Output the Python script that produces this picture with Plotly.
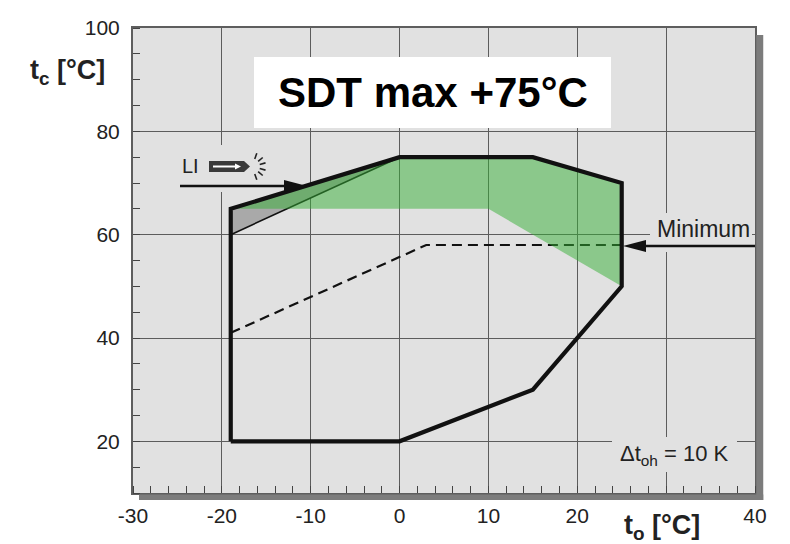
import math
import plotly.graph_objects as go

# ---------------- data ----------------
env_to = [-19, 0, 15, 25, 25, 15, 0, -19, -19]
env_tc = [20, 20, 30, 50, 70, 75, 75, 65, 20]

green_to = [-19, 0, 15, 25, 25, 10, -19]
green_tc = [65, 75, 75, 70, 50, 65, 65]

li_to = [-19, 0, -19]
li_tc = [65, 75, 60]

li_line_to = [-19, 0]
li_line_tc = [60, 75]

min_to = [-19, 3, 25]
min_tc = [41, 58, 58]

x_ticks = [-30, -20, -10, 0, 10, 20, 30, 40]
x_tick_labels = ["-30", "-20", "-10", "0", "10", "20", "", "40"]
y_ticks = [20, 40, 60, 80, 100]
y_tick_labels = ["20", "40", "60", "80", "100"]

X_RANGE = [-30, 40]
Y_RANGE = [10, 100]

# ---------------- layout geometry ----------------
W, H = 790, 544
ML, MR, MT, MB = 133, 35, 28, 51
PW = W - ML - MR
PH = H - MT - MB
SX = PW / (X_RANGE[1] - X_RANGE[0])
SY = PH / (Y_RANGE[1] - Y_RANGE[0])


def X(px):
    return X_RANGE[0] + (px - ML) / SX


def Y(py):
    return Y_RANGE[1] - (py - MT) / SY


BG = "#e1e1e1"
GRID = "#5c5c5c"

fig = go.Figure()

fig.add_trace(go.Scatter(x=li_to, y=li_tc, mode="lines", fill="toself",
                         fillcolor="#a9a9a9", line=dict(width=0), hoverinfo="skip"))
fig.add_trace(go.Scatter(x=min_to, y=min_tc, mode="lines",
                         line=dict(color="#111", width=2.2, dash="10px,6px"), hoverinfo="skip"))
fig.add_trace(go.Scatter(x=li_line_to, y=li_line_tc, mode="lines",
                         line=dict(color="#111", width=1.6), hoverinfo="skip"))
fig.add_trace(go.Scatter(x=green_to, y=green_tc, mode="lines", fill="toself",
                         fillcolor="rgba(54,176,54,0.5)", line=dict(width=0), hoverinfo="skip"))
fig.add_trace(go.Scatter(x=env_to, y=env_tc, mode="lines",
                         line=dict(color="#111", width=4.2), hoverinfo="skip"))

shapes = []
# gaps in the grid behind labels
for (x0, x1, y0, y1) in [(178, 262, 145, 192), (650, 752, 213, 252), (612, 737, 437, 472)]:
    shapes.append(dict(type="rect", xref="x", yref="y", x0=X(x0), x1=X(x1), y0=Y(y1), y1=Y(y0),
                       fillcolor=BG, line=dict(width=0), layer="between"))

# drop shadow right and bottom
shapes.append(dict(type="rect", xref="paper", yref="paper", x0=1.002, x1=1.002 + 7 / PW,
                   y0=-7 / PH, y1=1 - 7 / PH, fillcolor="#7c7c7c", line=dict(width=0)))
shapes.append(dict(type="rect", xref="paper", yref="paper", x0=6 / PW, x1=1.002 + 7 / PW,
                   y0=-7 / PH, y1=-0.003, fillcolor="#7c7c7c", line=dict(width=0)))

# white box behind title
shapes.append(dict(type="rect", xref="x", yref="y", x0=X(254), x1=X(611), y0=Y(128), y1=Y(57),
                   fillcolor="white", line=dict(width=0), layer="above"))


def arrow(tail, tip, head_len=23, head_half=6, width=2.4):
    (xa, ya), (xb, yb) = tail, tip
    d = 1 if xb > xa else -1
    base = xb - d * head_len / SX
    shapes.append(dict(type="line", xref="x", yref="y", x0=xa, y0=ya, x1=base + d * 2 / SX, y1=yb,
                       line=dict(color="#111", width=width), layer="above"))
    path = "M {} {} L {} {} L {} {} Z".format(xb, yb, base, yb + head_half / SY, base, yb - head_half / SY)
    shapes.append(dict(type="path", xref="x", yref="y", path=path, fillcolor="#111",
                       line=dict(width=0), layer="above"))


arrow((X(180), Y(186)), (X(307), Y(186)))
arrow((X(755), Y(246)), (X(623), Y(246)))

# LI icon: dark arrow body with white arrow inside and sparks
body = [(209, 161), (244, 161), (250, 166.5), (244, 172), (209, 172)]
shapes.append(dict(type="path", xref="x", yref="y",
                   path="M " + " L ".join("{} {}".format(X(a), Y(b)) for a, b in body) + " Z",
                   fillcolor="#3a3a3a", line=dict(width=0), layer="above"))
shapes.append(dict(type="line", xref="x", yref="y", x0=X(213), y0=Y(166.5), x1=X(238), y1=Y(166.5),
                   line=dict(color="white", width=2), layer="above"))
head = [(235, 163.5), (241, 166.5), (235, 169.5)]
shapes.append(dict(type="path", xref="x", yref="y",
                   path="M " + " L ".join("{} {}".format(X(a), Y(b)) for a, b in head) + " Z",
                   fillcolor="white", line=dict(width=0), layer="above"))
cx, cy = 252, 166.5
for ang in [-70, -40, -15, 15, 40, 70]:
    r0, r1 = 8, 14
    a = math.radians(ang)
    shapes.append(dict(type="line", xref="x", yref="y",
                       x0=X(cx + r0 * math.cos(a)), y0=Y(cy + r0 * math.sin(a)),
                       x1=X(cx + r1 * math.cos(a)), y1=Y(cy + r1 * math.sin(a)),
                       line=dict(color="#222", width=1.6), layer="above"))

C = dict(xanchor="center", yanchor="middle", showarrow=False)
annotations = [
    dict(x=X(432.5), y=Y(92.5), xref="x", yref="y", text="<b>SDT max +75°C</b>",
         font=dict(size=42, color="black", family="Liberation Sans, Arial"), **C),
    dict(x=X(190.5), y=Y(166), xref="x", yref="y", text="LI",
         font=dict(size=20, color="#222"), **C),
    dict(x=X(703.5), y=Y(229), xref="x", yref="y", text="Minimum",
         font=dict(size=23, color="#222"), bgcolor=BG, borderpad=0, **C),
    dict(x=X(674.5), y=Y(455), xref="x", yref="y", text="Δt<sub>oh</sub> = 10 K",
         font=dict(size=22, color="#222"), bgcolor=BG, borderpad=0, **C),
    dict(x=(67 - ML) / PW, y=(MT + PH - 72) / PH, xref="paper", yref="paper",
         text="<b>t<sub>c</sub> [°C]</b>", font=dict(size=27, color="#222"), **C),
    dict(x=(662 - ML) / PW, y=(MT + PH - 527) / PH, xref="paper", yref="paper",
         text="<b>t<sub>o</sub> [°C]</b>", font=dict(size=27, color="#222"), **C),
]

axis_common = dict(showgrid=True, gridcolor=GRID, gridwidth=1, showline=True, linecolor="#5e5e5e",
                   linewidth=2, mirror=True, zeroline=False, ticks="", fixedrange=True,
                   tickfont=dict(size=21, color="#222"))

fig.update_layout(
    width=W, height=H,
    margin=dict(l=ML, r=MR, t=MT, b=MB),
    paper_bgcolor="white", plot_bgcolor=BG,
    showlegend=False,
    font=dict(family="Liberation Sans, Arial", color="#222", size=21),
    xaxis=dict(range=X_RANGE, tickmode="array", tickvals=x_ticks, ticktext=x_tick_labels,
               ticklabelstandoff=3,
               minor=dict(dtick=2, tick0=0, ticks="inside", ticklen=7, tickcolor="#444", tickwidth=1),
               **axis_common),
    yaxis=dict(range=Y_RANGE, tickmode="array", tickvals=y_ticks, ticktext=y_tick_labels,
               ticklabelstandoff=7,
               minor=dict(dtick=5, tick0=0, ticks="inside", ticklen=7, tickcolor="#444", tickwidth=1),
               **axis_common),
    shapes=shapes,
    annotations=annotations,
)

fig.write_html("out.html")
